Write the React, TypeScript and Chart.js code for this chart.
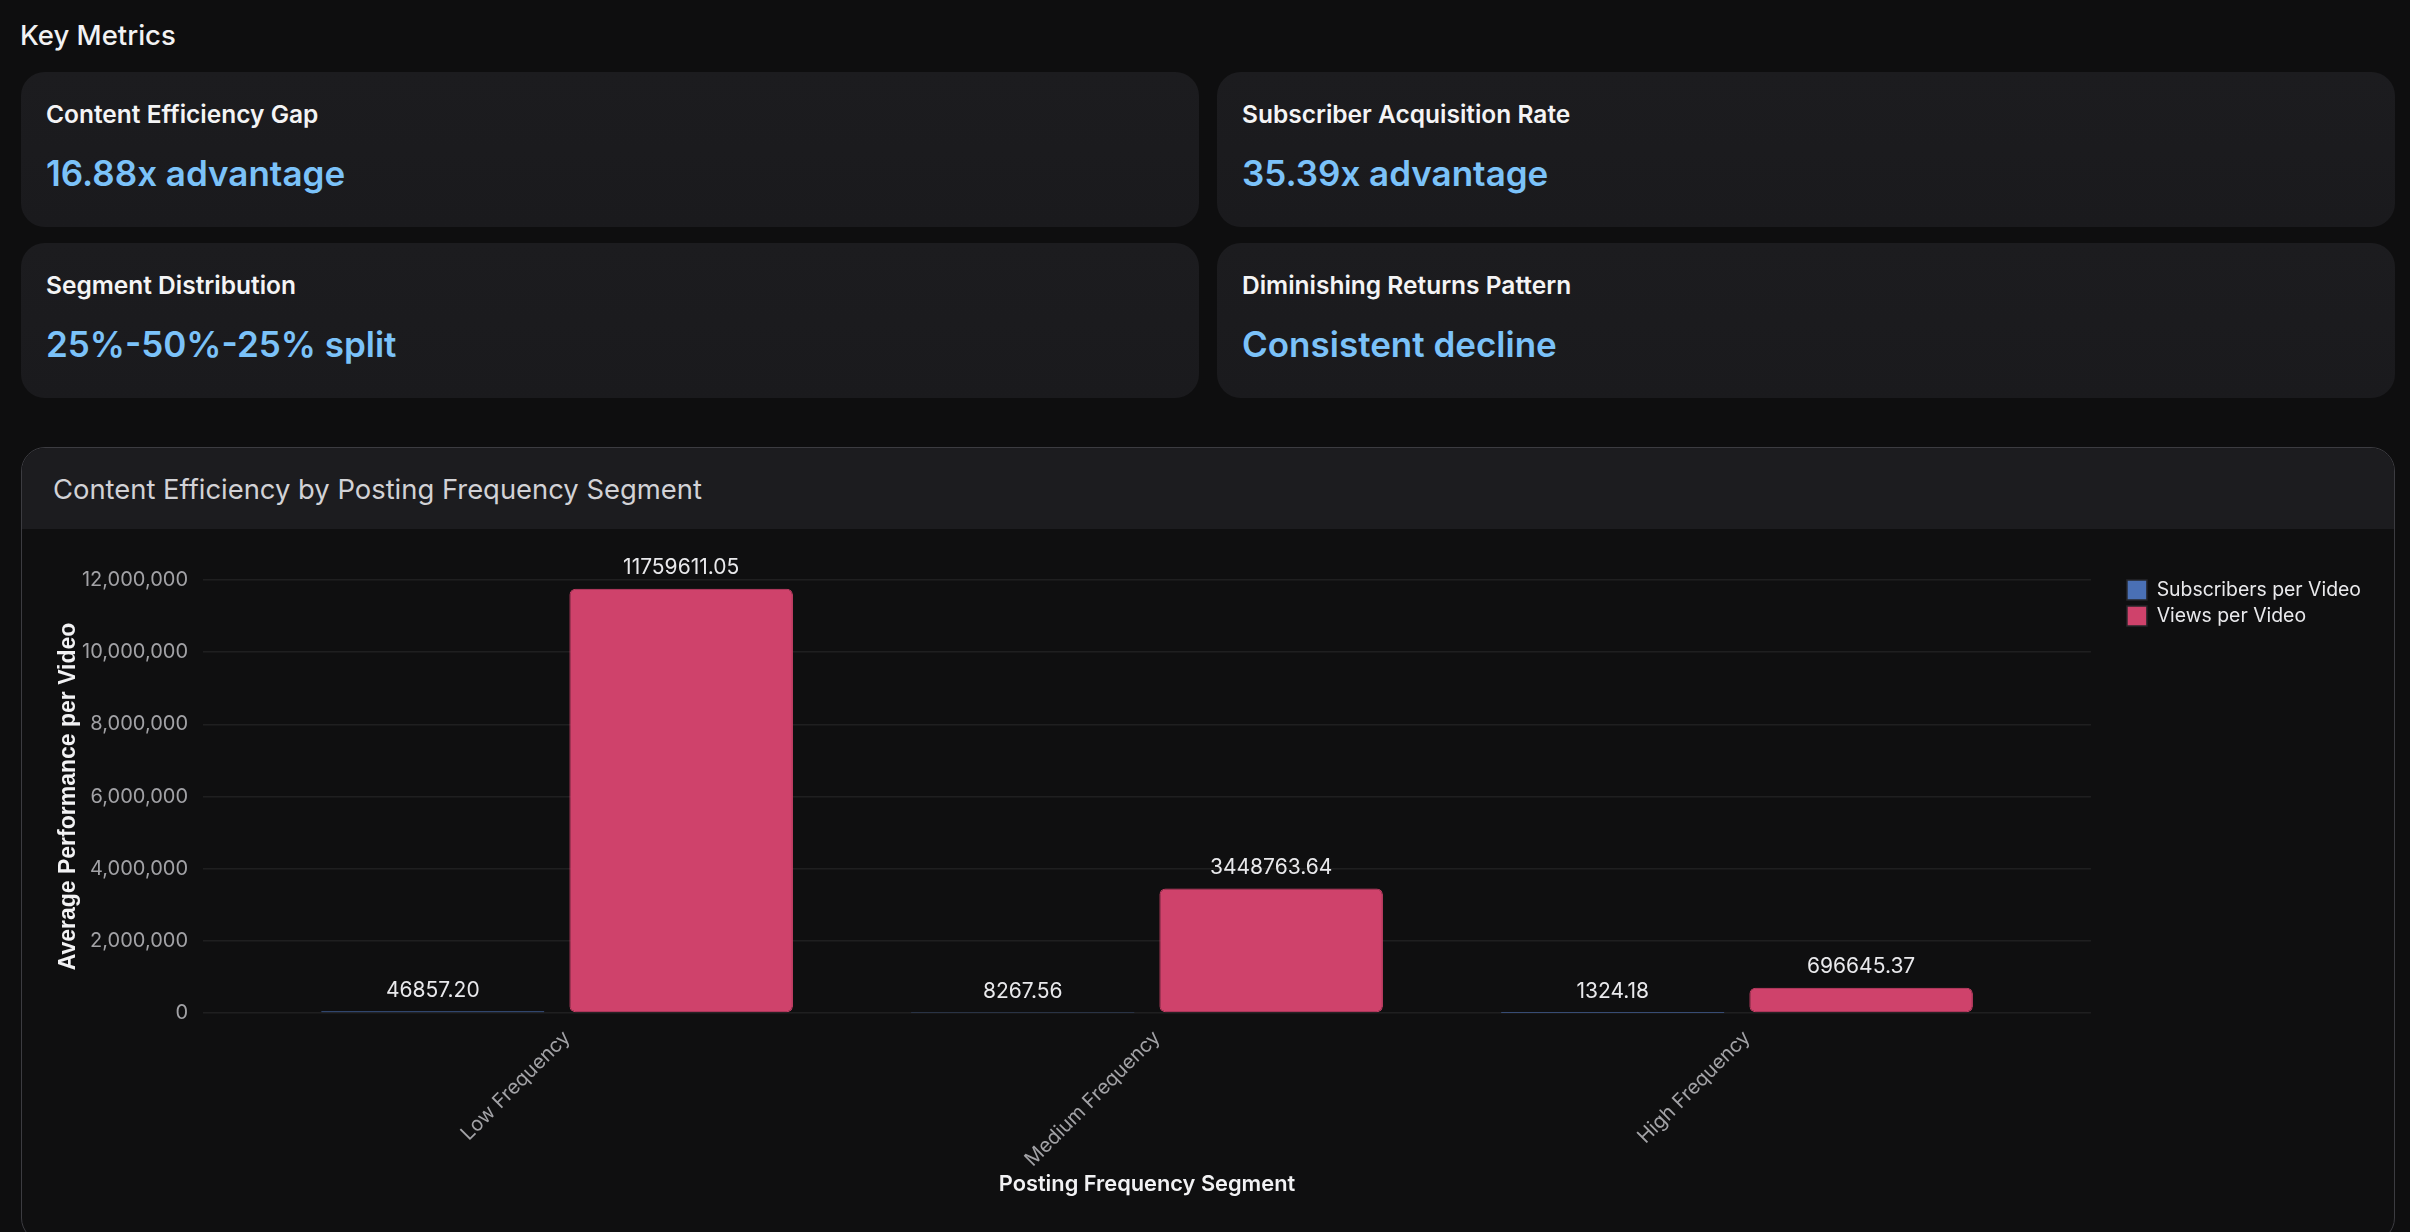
import React, { useEffect, useRef } from 'react';
import { Chart, registerables } from 'chart.js';

Chart.register(...registerables);

// ---- data ----
const metricLabels = [
  'Content Efficiency Gap',
  'Subscriber Acquisition Rate',
  'Segment Distribution',
  'Diminishing Returns Pattern',
];
const metricValues = ['16.88x advantage', '35.39x advantage', '25%-50%-25% split', 'Consistent decline'];

const segments = ['Low Frequency', 'Medium Frequency', 'High Frequency'];
const seriesNames = ['Subscribers per Video', 'Views per Video'];
const subscribersPerVideo = [46857.2, 8267.56, 1324.18];
const viewsPerVideo = [11759611.05, 3448763.64, 696645.37];
const yAxisMin = 0;
const yAxisMax = 12000000;
const yAxisStep = 2000000;

const seriesColors = ['#4a70b5', '#cf426b'];
const tickColor = '#a2a2a6';
const titleColor = '#f2f2f4';

const barValueLabels = {
  id: 'barValueLabels',
  afterDatasetsDraw(chart: any) {
    const ctx = chart.ctx;
    ctx.save();
    ctx.font = '400 21px Inter';
    ctx.fillStyle = '#e9e9ec';
    ctx.textAlign = 'center';
    ctx.textBaseline = 'middle';
    chart.data.datasets.forEach((ds: any, di: number) => {
      const meta = chart.getDatasetMeta(di);
      if (meta.hidden) return;
      meta.data.forEach((bar: any, i: number) => {
        const v = ds.data[i].y as number;
        ctx.fillText(v.toFixed(2), bar.x, bar.y - 21);
      });
    });
    ctx.restore();
  },
};

function EfficiencyChart() {
  const ref = useRef<HTMLCanvasElement | null>(null);
  useEffect(() => {
    if (!ref.current) return;
    const series = [subscribersPerVideo, viewsPerVideo];
    const chart = new Chart(ref.current, {
      type: 'bar',
      data: {
        datasets: series.map((vals, s) => ({
          label: seriesNames[s],
          data: vals.map((v, i) => ({ x: i, y: v })),
          backgroundColor: seriesColors[s],
          borderColor: seriesColors[s],
          borderWidth: 1,
          borderRadius: 6,
          borderSkipped: false,
          barPercentage: 0.9,
          categoryPercentage: 0.842,
        })),
      },
      options: {
        animation: false,
        responsive: true,
        maintainAspectRatio: false,
        layout: { padding: { left: 7, top: 21, right: 1, bottom: 7 } },
        plugins: {
          tooltip: { enabled: false },
          legend: {
            position: 'right',
            align: 'start',
            labels: {
              boxWidth: 20,
              boxHeight: 20,
              padding: 6,
              color: '#e9e9ec',
              font: { family: 'Inter', size: 19.4 },
              generateLabels: (c: any) =>
                (Chart.defaults.plugins.legend.labels.generateLabels as any)(c).map((l: any) => ({
                  ...l,
                  strokeStyle: '#26262a',
                  lineWidth: 1.5,
                })),
            },
          },
        },
        scales: {
          x: {
            type: 'linear',
            min: -0.6,
            max: 2.6,
            offset: false,
            grid: { display: false, drawTicks: false, offset: false },
            border: { display: false },
            ticks: {
              stepSize: 1,
              includeBounds: false,
              autoSkip: false,
              maxRotation: 45,
              minRotation: 45,
              padding: 13,
              labelOffset: 10,
              color: tickColor,
              font: { family: 'Inter', size: 20 },
              callback: (v: any) => segments[Number(v)] ?? '',
            },
            title: {
              display: true,
              text: 'Posting Frequency Segment',
              color: titleColor,
              font: { family: 'Inter', size: 21.8, weight: '600' },
              padding: { top: 4, bottom: 4 },
            },
            afterFit: (s: any) => {
              s.height = 189;
            },
          },
          y: {
            min: yAxisMin,
            max: yAxisMax,
            grid: { color: 'rgba(255,255,255,0.07)', lineWidth: 1.5, drawTicks: false },
            border: { display: false },
            ticks: {
              stepSize: yAxisStep,
              padding: 15,
              color: tickColor,
              font: { family: 'Inter', size: 20 },
              callback: (v: any) => Number(v).toLocaleString('en-US'),
            },
            title: {
              display: true,
              text: 'Average Performance per Video',
              color: titleColor,
              font: { family: 'Liberation Sans', size: 23, weight: 'bold' },
              padding: { top: 4, bottom: 4 },
            },
            afterFit: (s: any) => {
              s.width = 152;
            },
          },
          legendGap: {
            type: 'linear',
            position: 'right',
            display: true,
            grid: { display: false, drawTicks: false },
            border: { display: false },
            ticks: { display: false },
            afterFit: (s: any) => {
              s.width = 30;
            },
          },
        },
      } as any,
      plugins: [barValueLabels],
    });
    return () => chart.destroy();
  }, []);
  return <canvas ref={ref} />;
}

function MetricCard({ label, value, index }: { label: string; value: string; index: number }) {
  const col = index % 2;
  const row = Math.floor(index / 2);
  return (
    <div
      style={{
        position: 'absolute',
        left: 21 + col * (1178 + 18),
        top: 72 + row * (155 + 16),
        width: 1178,
        height: 155,
        borderRadius: 24,
        background: 'linear-gradient(180deg, #1c1c1f 0%, #1a1a1d 100%)',
        boxSizing: 'border-box',
      }}
    >
      <div
        style={{
          position: 'absolute',
          left: 25,
          top: 27,
          fontSize: 24.5,
          lineHeight: '30px',
          fontWeight: 600,
          color: '#f4f4f5',
          whiteSpace: 'nowrap',
        }}
      >
        {label}
      </div>
      <div
        style={{
          position: 'absolute',
          left: 25,
          top: 80,
          fontSize: 35,
          lineHeight: '42px',
          fontWeight: 600,
          color: '#7bc2f9',
          whiteSpace: 'nowrap',
        }}
      >
        {value}
      </div>
    </div>
  );
}

export default function App() {
  return (
    <div
      style={{
        position: 'relative',
        width: 2410,
        height: 1232,
        overflow: 'hidden',
        background: '#0e0e0f',
        fontFamily: 'Inter, "Noto Sans", sans-serif',
      }}
    >
      <style>{`html,body{margin:0;padding:0;background:#0e0e0f;overflow:hidden}`}</style>
      <div
        style={{
          position: 'absolute',
          left: 20,
          top: 19,
          fontSize: 27.5,
          lineHeight: '33px',
          fontWeight: 500,
          color: '#f2f2f3',
        }}
      >
        Key Metrics
      </div>
      {metricLabels.map((l, i) => (
        <MetricCard key={l} label={l} value={metricValues[i]} index={i} />
      ))}
      <div
        style={{
          position: 'absolute',
          left: 21,
          top: 447,
          width: 2374,
          height: 795,
          boxSizing: 'border-box',
          border: '1px solid #3c3c41',
          borderRadius: 24,
          overflow: 'hidden',
          background: '#0f0f10',
        }}
      >
        <div
          style={{
            position: 'absolute',
            left: 0,
            top: 0,
            right: 0,
            height: 81,
            background: '#1c1c1f',
          }}
        />
        <div
          style={{
            position: 'absolute',
            left: 31,
            top: 25,
            fontSize: 27.4,
            lineHeight: '33px',
            fontWeight: 400,
            color: '#d2d2d6',
            whiteSpace: 'nowrap',
          }}
        >
          Content Efficiency by Posting Frequency Segment
        </div>
        <div style={{ position: 'absolute', left: 22, top: 105, width: 2328, height: 656 }}>
          <EfficiencyChart />
        </div>
      </div>
    </div>
  );
}
